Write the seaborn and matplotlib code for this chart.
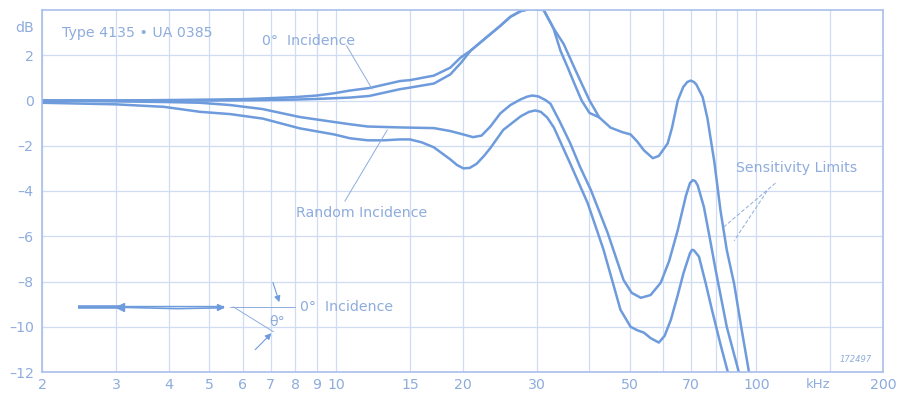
import numpy as np
import pandas as pd
import matplotlib
matplotlib.use("Agg")
import matplotlib.pyplot as plt
import seaborn as sns

# ---------------- data ----------------
# 0 deg incidence, upper sensitivity limit
f_0_hi = [2, 3, 4, 5, 6, 6.7, 8, 9, 9.9, 10.8, 12, 14.2, 15, 17.1, 18.7, 19.8, 20.9,
          22.5, 24.6, 26, 27.5, 29, 31.2, 32.9, 34.8, 36.9, 38.4, 40.1, 42.3, 45,
          48, 50.2, 52, 54, 56.7, 58.6, 61.5, 63, 65, 67, 68.5, 69.8, 71, 72,
          74.5, 76.5, 78, 79.4, 82.2, 85, 88.5, 92, 96]
db_0_hi = [0, 0, 0.02, 0.04, 0.06, 0.09, 0.15, 0.22, 0.32, 0.44, 0.55, 0.86, 0.9, 1.1,
           1.45, 1.9, 2.2, 2.7, 3.3, 3.7, 3.95, 4.05, 4.0, 3.2, 2.5, 1.45, 0.75, 0.0,
           -0.75, -1.2, -1.4, -1.5, -1.8, -2.2, -2.55, -2.45, -1.9, -1.2, 0.0, 0.6,
           0.82, 0.88, 0.82, 0.7, 0.15, -0.8, -1.8, -2.7, -4.9, -6.6, -8.1, -10.0,
           -12.0]

# 0 deg incidence, lower sensitivity limit (joins the upper one above ~42 kHz)
f_0_lo = [2, 3, 4, 5, 6, 6.7, 8, 9, 9.9, 10.8, 12, 14.2, 15, 17.1, 18.7, 19.8, 20.9,
          22.5, 24.6, 26, 27.5, 29, 31.2, 32.9, 34.2, 35.6, 36.9, 38.4, 40.1, 42.3]
db_0_lo = [0, 0, 0, 0, 0.01, 0.02, 0.04, 0.07, 0.1, 0.13, 0.2, 0.5, 0.57, 0.75,
           1.15, 1.65, 2.2, 2.7, 3.3, 3.7, 3.95, 4.05, 4.0, 3.2, 2.2, 1.45, 0.75,
           0.0, -0.55, -0.75]

# Random incidence, upper sensitivity limit
f_r_hi = [2, 3, 4, 4.75, 5.6, 6.7, 8.2, 9.9, 10.8, 11.9, 14.2, 17.1, 18.7, 19.8,
          21.2, 22.2, 23.3, 24.6, 26, 27.5, 28.5, 29.3, 30.3, 31.5, 32.4, 34, 36.1,
          38, 40.4, 44.3, 48.3, 50.5, 53.1, 56, 59.2, 62, 65, 68, 69.5, 70.6, 71.5,
          72.5, 75, 77.5, 80, 85, 90.8]
db_r_hi = [0.0, -0.04, -0.07, -0.1, -0.2, -0.38, -0.73, -0.95, -1.05, -1.15, -1.19,
           -1.22, -1.35, -1.47, -1.62, -1.55, -1.15, -0.57, -0.2, 0.05, 0.17, 0.22,
           0.18, 0.02, -0.15, -0.9, -1.9, -2.9, -3.96, -5.86, -7.93, -8.5, -8.72,
           -8.6, -8.06, -7.1, -5.73, -4.2, -3.65, -3.52, -3.56, -3.75, -4.7, -6.1,
           -7.5, -10.0, -12.0]

# Random incidence, lower sensitivity limit
f_r_lo = [2, 3, 3.9, 4.75, 5.6, 6.7, 8.2, 9.9, 10.8, 11.9, 13, 14.2, 15, 16, 17.1,
          18.7, 19.4, 20.1, 20.8, 21.6, 22.5, 23.3, 25, 27.5, 28.8, 29.8, 30.7,
          31.8, 33, 36.1, 39.7, 43.3, 47.5, 50.2, 52, 54, 56, 58.6, 60.5, 62.6, 65,
          67.1, 69.5, 70.3, 71, 73, 75.8, 78.5, 82.2, 85.5]
db_r_lo = [-0.1, -0.17, -0.28, -0.5, -0.6, -0.8, -1.23, -1.5, -1.67, -1.76, -1.76,
           -1.72, -1.72, -1.85, -2.07, -2.6, -2.85, -3.0, -2.98, -2.8, -2.45, -2.1,
           -1.3, -0.7, -0.5, -0.44, -0.5, -0.75, -1.2, -2.8, -4.54, -6.6, -9.25,
           -10.0, -10.15, -10.26, -10.5, -10.7, -10.4, -9.69, -8.6, -7.62, -6.75,
           -6.6, -6.62, -6.9, -8.1, -9.3, -10.8, -12.0]

x_tick_vals = [2, 3, 4, 5, 6, 7, 8, 9, 10, 15, 20, 30, 50, 70, 100, 200]
x_tick_labels = ["2", "3", "4", "5", "6", "7", "8", "9", "10", "15", "20", "30",
                 "50", "70", "100", "200"]
x_grid_extra = [40, 60, 80, 90, 150]
y_tick_vals = [2, 0, -2, -4, -6, -8, -10, -12]

# ---------------- style ----------------
LINE = "#6e9bdc"
GRID = "#cfdcf3"
FRAME = "#a9c0ea"
TEXT = "#8eacdd"
FS = 10.2

sns.set_theme(style="white")
plt.rcParams['font.family'] = ['DejaVu Sans']

curves = []
for name, f, d in [("0hi", f_0_hi, db_0_hi), ("0lo", f_0_lo, db_0_lo),
                   ("rhi", f_r_hi, db_r_hi), ("rlo", f_r_lo, db_r_lo)]:
    curves.append(pd.DataFrame({"kHz": f, "dB": d, "curve": name}))
df = pd.concat(curves, ignore_index=True)

fig = plt.figure(figsize=(9.08, 3.98), dpi=100)
ax = fig.add_axes([42 / 908, 26 / 398, 841 / 908, 362 / 398])
ax.set_xscale("log")

sns.lineplot(data=df, x="kHz", y="dB", units="curve", estimator=None, sort=False,
             color=LINE, lw=1.8, ax=ax, legend=False)

ax.set_xlim(2, 200)
ax.set_ylim(-12, 4)

ax.set_xticks(x_tick_vals)
ax.set_xticklabels(x_tick_labels)
ax.set_xticks(x_grid_extra, minor=True)
ax.xaxis.set_minor_formatter(matplotlib.ticker.NullFormatter())
ax.set_yticks(y_tick_vals)
ax.set_yticklabels([str(v).replace("-", "\u2013") for v in y_tick_vals])
ax.tick_params(axis="both", which="both", length=0, colors=TEXT, labelsize=FS)
ax.tick_params(axis="x", pad=4)
ax.tick_params(axis="y", pad=6)
ax.grid(True, which="both", color=GRID, lw=0.9)
ax.set_xlabel("")
ax.set_ylabel("")
for s in ax.spines.values():
    s.set_color(FRAME)
    s.set_linewidth(1.2)

# unit labels
ax.annotate("kHz", xy=(140, 0), xycoords=("data", "axes fraction"),
            xytext=(0, -4), textcoords="offset points", ha="center", va="top",
            color=TEXT, fontsize=9.5)
ax.annotate("dB", xy=(0, 3.2), xycoords=("axes fraction", "data"),
            xytext=(-6, 0), textcoords="offset points", ha="right", va="center",
            color=TEXT, fontsize=FS)

# text labels
ax.text(2.23, 3.0, "Type 4135 \u2022 UA 0385", color=TEXT, fontsize=FS,
        va="center", ha="left")
ax.text(6.68, 2.64, "0\u00b0  Incidence", color=TEXT, fontsize=FS,
        va="center", ha="left")
ax.plot([10.6, 12.2], [2.42, 0.5], color=TEXT, lw=0.7)
ax.text(8.05, -4.98, "Random Incidence", color=TEXT, fontsize=FS,
        va="center", ha="left")
ax.plot([10.5, 13.25], [-4.45, -1.3], color=TEXT, lw=0.7)
ax.text(89.3, -3.0, "Sensitivity Limits", color=TEXT, fontsize=FS,
        va="center", ha="left")
ax.plot([111, 83.5], [-3.65, -5.6], color=TEXT, lw=0.7, ls=(0, (4, 2)))
ax.plot([106, 88.5], [-4.0, -6.2], color=TEXT, lw=0.7, ls=(0, (4, 2)))
ax.text(172, -11.45, "172497", color=TEXT, fontsize=6, style="italic",
        va="center", ha="center")

# inset sketch: microphone with incidence directions
ax.plot([2.44, 3.07], [-9.12, -9.12], color=LINE, lw=2.6, solid_capstyle="butt")
ax.plot([3.07, 5.4], [-9.1, -9.1], color=LINE, lw=1.0)
ax.plot([3.07, 4.2, 5.4], [-9.14, -9.2, -9.16], color=LINE, lw=1.2)
ax.plot([3.07], [-9.12], marker="<", color=LINE, ms=6)
ax.plot([5.3], [-9.12], marker=">", color=LINE, ms=5)
ax.plot([5.6, 8.0], [-9.12, -9.12], color=TEXT, lw=0.7)
ax.plot([5.7, 7.1], [-9.12, -10.22], color=TEXT, lw=0.7)
ax.annotate("", xy=(7.1, -10.2), xytext=(6.36, -11.1),
            arrowprops=dict(arrowstyle="-|>", color=LINE, lw=0.8,
                            mutation_scale=9))
ax.annotate("", xy=(7.37, -9.03), xytext=(7.05, -7.93),
            arrowprops=dict(arrowstyle="-|>", color=LINE, lw=0.8,
                            mutation_scale=9))
ax.text(7.25, -9.78, "\u03b8\u00b0", color=TEXT, fontsize=FS,
        va="center", ha="center")
ax.text(8.2, -9.12, "0\u00b0  Incidence", color=TEXT, fontsize=FS,
        va="center", ha="left")

fig.savefig("out.png", dpi=100)
